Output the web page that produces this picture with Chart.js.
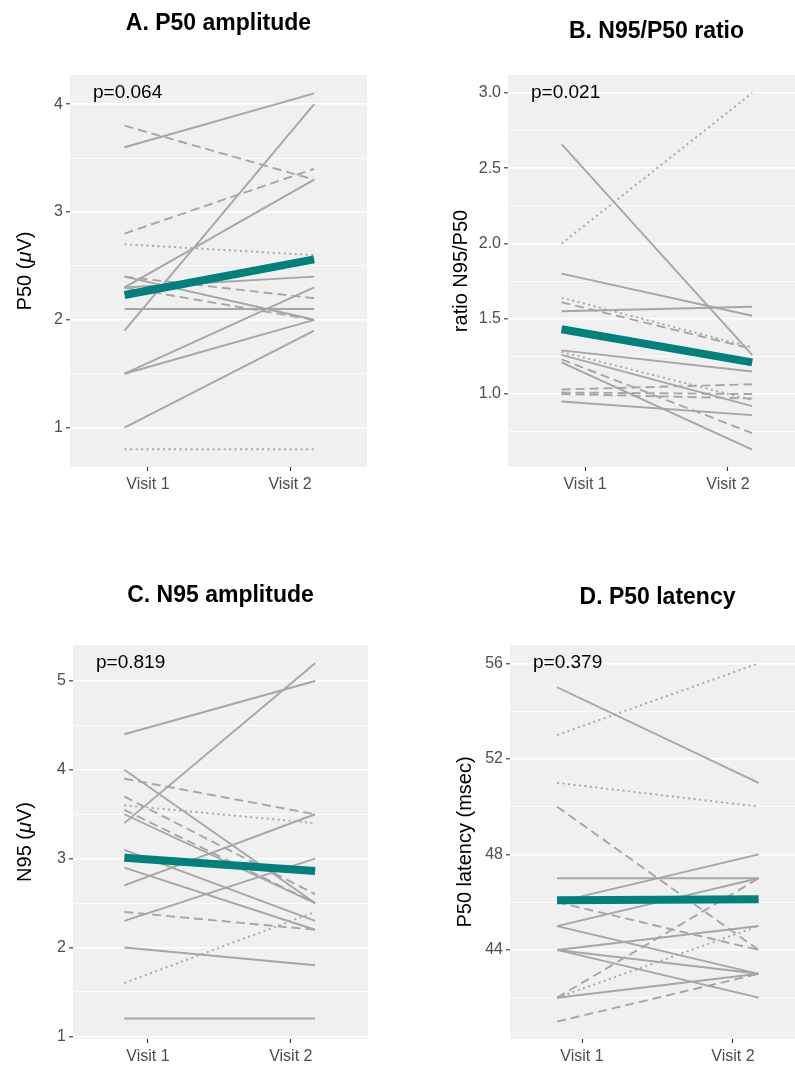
<!DOCTYPE html>
<html>
<head>
<meta charset="utf-8">
<title>Visit 1 vs Visit 2</title>
<script src="https://cdn.jsdelivr.net/npm/chart.js@4/dist/chart.umd.min.js"></script>
<style>
  html, body { margin: 0; padding: 0; background: #fff; overflow: hidden; }
  body { width: 795px; height: 1065px; position: relative; }
  canvas { position: absolute; }
</style>
</head>
<body>
<canvas id="chartA" width="390" height="500" style="left:0;top:0"></canvas>
<canvas id="chartB" width="400" height="500" style="left:420px;top:0"></canvas>
<canvas id="chartC" width="390" height="505" style="left:0;top:560px"></canvas>
<canvas id="chartD" width="400" height="505" style="left:430px;top:560px"></canvas>
<script>
const visitLabels = ['Visit 1', 'Visit 2'];

// A. P50 amplitude
const ampP50V1 = [3.6, 3.8, 1.9, 2.8, 2.3, 2.7, 2.4, 2.4, 2.3, 2.3, 2.1, 1.5, 1.5, 1.0, 0.8];
const ampP50V2 = [4.1, 3.3, 4.0, 3.4, 3.3, 2.6, 2.0, 2.2, 2.4, 2.0, 2.1, 2.3, 2.0, 1.9, 0.8];
const ampP50Type = ['solid', 'dashed', 'solid', 'dashed', 'solid', 'dotted', 'solid', 'dashed',
  'solid', 'dashed', 'solid', 'solid', 'solid', 'solid', 'dotted'];
const ampP50Mean = [2.23, 2.56];
const ampP50Ticks = [1, 2, 3, 4];
const ampP50Minor = [1.5, 2.5, 3.5];

// B. N95/P50 ratio
const ratioV1 = [2.0, 2.66, 1.80, 1.55, 1.64, 1.61, 1.29, 1.28, 1.26, 1.23, 1.21, 1.03, 1.01, 1.0, 0.95];
const ratioV2 = [3.0, 1.26, 1.52, 1.58, 1.31, 1.30, 1.15, 0.96, 0.92, 0.74, 0.63, 1.065, 1.0, 0.97, 0.86];
const ratioType = ['dotted', 'solid', 'solid', 'solid', 'dotted', 'dashed', 'solid', 'dotted',
  'solid', 'dashed', 'solid', 'dashed', 'dashed', 'dashed', 'solid'];
const ratioMean = [1.43, 1.21];
const ratioTicks = [1.0, 1.5, 2.0, 2.5, 3.0];
const ratioMinor = [0.75, 1.25, 1.75, 2.25, 2.75];

// C. N95 amplitude
const ampN95V1 = [4.4, 3.4, 4.0, 3.9, 3.7, 3.6, 3.55, 3.5, 3.1, 2.9, 2.7, 2.3, 2.4, 2.0, 1.6, 1.2];
const ampN95V2 = [5.0, 5.2, 2.5, 3.5, 2.6, 3.4, 2.5, 2.5, 2.3, 2.2, 3.5, 3.0, 2.2, 1.8, 2.4, 1.2];
const ampN95Type = ['solid', 'solid', 'solid', 'dashed', 'dashed', 'dotted', 'dashed', 'solid',
  'solid', 'solid', 'solid', 'solid', 'dashed', 'solid', 'dotted', 'solid'];
const ampN95Mean = [3.01, 2.86];
const ampN95Ticks = [1, 2, 3, 4, 5];
const ampN95Minor = [1.5, 2.5, 3.5, 4.5];

// D. P50 latency
const latV1 = [53, 55, 51, 50, 47, 46, 46, 45, 45, 44, 44, 44, 42, 42, 42, 41];
const latV2 = [56, 51, 50, 44, 47, 44, 48, 47, 43, 45, 43, 42, 47, 45, 43, 43];
const latType = ['dotted', 'solid', 'dotted', 'dashed', 'solid', 'dashed', 'solid', 'solid',
  'solid', 'solid', 'solid', 'solid', 'dashed', 'dotted', 'solid', 'dashed'];
const latMean = [46.08, 46.12];
const latTicks = [44, 48, 52, 56];
const latMinor = [42, 46, 50, 54];

// x positions where the subject lines begin and end (lines overhang the ticks a bit)
const lineX = [0.835, 2.17];

const FONT = '"Liberation Sans", Arial, Helvetica, sans-serif';
const GREY = '#a6a6a6';
const TEAL = '#00817d';
const PANEL_BG = '#f0f0f0';
const dashes = { solid: [], dashed: [9, 5], dotted: [2, 3.5] };

Chart.defaults.font.family = FONT;

// panel background + p value + y axis title (with optional italic part)
const panelDecor = {
  id: 'panelDecor',
  beforeDraw(chart, args, opts) {
    const { ctx, chartArea: a } = chart;
    ctx.save();
    ctx.fillStyle = PANEL_BG;
    ctx.fillRect(a.left, a.top, a.right - a.left, a.bottom - a.top);
    ctx.restore();
  },
  afterDraw(chart, args, opts) {
    const { ctx, chartArea: a } = chart;
    ctx.save();
    ctx.font = '19px ' + FONT;
    ctx.fillStyle = '#000';
    ctx.textBaseline = 'middle';
    ctx.textAlign = 'left';
    ctx.fillText(opts.pText, a.left + opts.pDx, a.top + opts.pDy);

    ctx.translate(opts.titleX, (a.top + a.bottom) / 2);
    ctx.rotate(-Math.PI / 2);
    const parts = opts.yTitle.map(([txt, style]) => {
      ctx.font = (style === 'italic' ? 'italic ' : '') + '20px ' + FONT;
      return { txt, font: ctx.font, w: ctx.measureText(txt).width };
    });
    let x = -parts.reduce((s, p) => s + p.w, 0) / 2;
    parts.forEach(p => {
      ctx.font = p.font;
      ctx.fillText(p.txt, x, 0);
      x += p.w;
    });
    ctx.restore();
  }
};

function makePanel(id, cfg) {
  const datasets = [{
    data: [{ x: lineX[0], y: cfg.mean[0] }, { x: lineX[1], y: cfg.mean[1] }],
    borderColor: TEAL,
    borderWidth: 8,
    borderCapStyle: 'butt'
  }];
  cfg.v1.forEach((v, i) => {
    datasets.push({
      data: [{ x: lineX[0], y: v }, { x: lineX[1], y: cfg.v2[i] }],
      borderColor: GREY,
      borderWidth: 1.9,
      borderDash: dashes[cfg.type[i]]
    });
  });

  const isMinor = v => cfg.minor.includes(v);

  new Chart(document.getElementById(id), {
    type: 'line',
    data: { datasets },
    options: {
      responsive: false,
      animation: false,
      parsing: false,
      elements: { point: { radius: 0 }, line: { tension: 0 } },
      layout: { padding: { left: 0, right: cfg.padRight, top: 0, bottom: 0 } },
      plugins: {
        legend: { display: false },
        tooltip: { enabled: false },
        title: {
          display: true,
          text: cfg.title,
          fullSize: false,
          color: '#000',
          font: { size: 23, weight: 'bold', lineHeight: 1.2 },
          padding: { top: cfg.titleTop, bottom: cfg.titleBottom }
        },
        panelDecor: { pText: cfg.pText, pDx: 23, pDy: 18, titleX: cfg.titleX, yTitle: cfg.yTitle }
      },
      scales: {
        x: {
          type: 'linear',
          min: cfg.xMin,
          max: cfg.xMax,
          afterBuildTicks: s => { s.ticks = [{ value: 1 }, { value: 2 }]; },
          afterFit: s => { s.height = cfg.xHeight; },
          ticks: {
            autoSkip: false,
            maxRotation: 0,
            padding: 4,
            color: '#4d4d4d',
            font: { size: 16 },
            callback: (v, i) => visitLabels[i]
          },
          grid: { drawOnChartArea: false, tickLength: 4, tickColor: '#333', tickWidth: 1.1 },
          border: { display: false }
        },
        y: {
          min: cfg.yMin,
          max: cfg.yMax,
          afterBuildTicks: s => {
            s.ticks = cfg.ticks.concat(cfg.minor).sort((a, b) => a - b).map(v => ({ value: v }));
          },
          afterFit: s => { s.width = cfg.yWidth; },
          ticks: {
            autoSkip: false,
            padding: 3,
            color: '#4d4d4d',
            font: { size: 16 },
            callback: v => isMinor(v) ? '' : v.toFixed(cfg.decimals)
          },
          grid: {
            color: '#fff',
            lineWidth: c => isMinor(c.tick.value) ? 0.8 : 1.6,
            tickLength: 4,
            tickWidth: 1.1,
            tickColor: c => isMinor(c.tick.value) ? 'rgba(0,0,0,0)' : '#333'
          },
          border: { display: false }
        }
      }
    },
    plugins: [panelDecor]
  });
}

makePanel('chartA', {
  title: 'A. P50 amplitude', titleTop: 10, titleBottom: 37.4,
  v1: ampP50V1, v2: ampP50V2, type: ampP50Type, mean: ampP50Mean,
  ticks: ampP50Ticks, minor: ampP50Minor, decimals: 0,
  yMin: 0.635, yMax: 4.27, xMin: 0.451, xMax: 2.542,
  yWidth: 70, xHeight: 33, padRight: 23,
  pText: 'p=0.064', titleX: 25, yTitle: [['P50 (', ''], ['\u03bc', 'italic'], ['V)', '']]
});

makePanel('chartB', {
  title: 'B. N95/P50 ratio', titleTop: 18, titleBottom: 29.4,
  v1: ratioV1, v2: ratioV2, type: ratioType, mean: ratioMean,
  ticks: ratioTicks, minor: ratioMinor, decimals: 1,
  yMin: 0.515, yMax: 3.12, xMin: 0.46, xMax: 2.54,
  yWidth: 88, xHeight: 33, padRight: 15,
  pText: 'p=0.021', titleX: 41, yTitle: [['ratio N95/P50', '']]
});

makePanel('chartC', {
  title: 'C. N95 amplitude', titleTop: 22, titleBottom: 35.4,
  v1: ampN95V1, v2: ampN95V2, type: ampN95Type, mean: ampN95Mean,
  ticks: ampN95Ticks, minor: ampN95Minor, decimals: 0,
  yMin: 0.97, yMax: 5.405, xMin: 0.476, xMax: 2.54,
  yWidth: 73, xHeight: 26, padRight: 22,
  pText: 'p=0.819', titleX: 25, yTitle: [['N95 (', ''], ['\u03bc', 'italic'], ['V)', '']]
});

makePanel('chartD', {
  title: 'D. P50 latency', titleTop: 24, titleBottom: 33.4,
  v1: latV1, v2: latV2, type: latType, mean: latMean,
  ticks: latTicks, minor: latMinor, decimals: 0,
  yMin: 40.27, yMax: 56.77, xMin: 0.523, xMax: 2.477,
  yWidth: 80, xHeight: 26, padRight: 25,
  pText: 'p=0.379', titleX: 35, yTitle: [['P50 latency (msec)', '']]
});
</script>
</body>
</html>
